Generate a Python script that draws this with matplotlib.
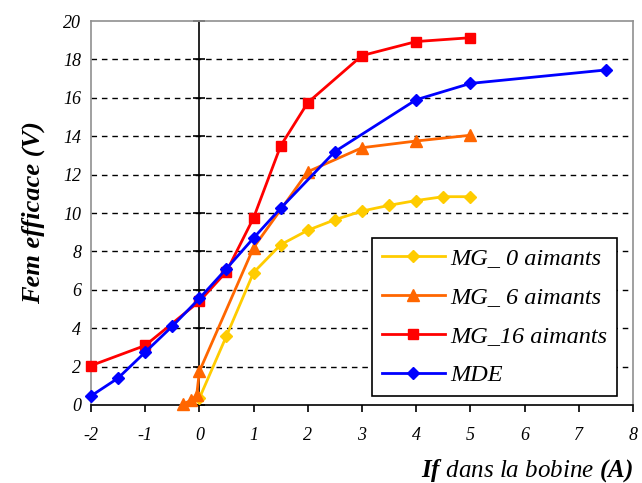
import matplotlib
matplotlib.use("Agg")
import matplotlib.pyplot as plt

plt.rcParams['font.family'] = ['Liberation Serif', 'DejaVu Serif']
plt.rcParams['mathtext.fontset'] = 'custom'
plt.rcParams['mathtext.it'] = 'Liberation Serif:italic'
plt.rcParams['mathtext.bfit'] = 'Liberation Serif:italic:bold'
plt.rcParams['mathtext.rm'] = 'Liberation Serif:italic'

# data
x_mg0 = [0, 0.5, 1, 1.5, 2, 2.5, 3, 3.5, 4, 4.5, 5]
y_mg0 = [0.35, 3.6, 6.9, 8.35, 9.1, 9.65, 10.1, 10.4, 10.65, 10.85, 10.85]

x_mg6 = [-0.3, -0.15, -0.05, 0, 1, 2, 3, 4, 5]
y_mg6 = [0.05, 0.25, 0.5, 1.75, 8.2, 12.15, 13.4, 13.75, 14.05]

x_mg16 = [-2, -1, 0, 0.5, 1, 1.5, 2, 3, 4, 5]
y_mg16 = [2.05, 3.1, 5.4, 6.95, 9.75, 13.5, 15.75, 18.2, 18.93, 19.13]

x_mde = [-2, -1.5, -1, -0.5, 0, 0.5, 1, 1.5, 2.5, 4, 5, 7.5]
y_mde = [0.47, 1.4, 2.75, 4.1, 5.55, 7.1, 8.7, 10.25, 13.2, 15.9, 16.75, 17.45]

x_ticks = [-2, -1, 0, 1, 2, 3, 4, 5, 6, 7, 8]
y_ticks = [0, 2, 4, 6, 8, 10, 12, 14, 16, 18, 20]
grid_levels = [2, 4, 6, 8, 10, 12, 14, 16, 18]

fig = plt.figure(figsize=(6.42, 4.83), dpi=100)
ax = fig.add_axes([0.1417, 0.1615, 0.8443, 0.795])

ax.set_xlim(-2, 8)
ax.set_ylim(0, 20)

# dashed grid
ax.hlines(grid_levels, -2, 8, colors='black', linestyles=(0, (4, 3.5)), linewidth=1.0, zorder=1)
# vertical axis at x=0 with tick marks
ax.axvline(0, color='black', linewidth=1.2, zorder=1)
ax.plot([0] * len(y_ticks), y_ticks, linestyle='none', marker='_', markersize=9,
        markeredgewidth=1.2, color='black', zorder=1, clip_on=False)

lw = 2.0
ax.plot(x_mg0, y_mg0, color='#FFCC00', marker='D', markersize=6, linewidth=lw,
        label='MG_ 0 aimants', zorder=3, clip_on=False)
ax.plot(x_mg6, y_mg6, color='#FF6600', marker='^', markersize=8, linewidth=lw,
        label='MG_ 6 aimants', zorder=3, clip_on=False)
ax.plot(x_mg16, y_mg16, color='#FF0000', marker='s', markersize=6.5, linewidth=lw,
        label='MG_16 aimants', zorder=4, clip_on=False)
ax.plot(x_mde, y_mde, color='#0000FF', marker='D', markersize=6, linewidth=lw,
        label='MDE', zorder=5, clip_on=False)

for s in ['left', 'top', 'right']:
    ax.spines[s].set_color('#909090')
    ax.spines[s].set_linewidth(1.2)
ax.spines['bottom'].set_color('black')
ax.spines['bottom'].set_linewidth(1.2)

ax.set_xticks(x_ticks)
ax.set_yticks(y_ticks)
ax.set_xticklabels([str(v) for v in x_ticks], fontstyle='italic', fontsize=13)
ax.set_yticklabels([str(v) for v in y_ticks], fontstyle='italic', fontsize=13)
ax.tick_params(axis='x', direction='out', length=5, width=1.2, color='black', pad=11)
ax.tick_params(axis='y', length=0, pad=7)

ax.set_ylabel('Fem efficace (V)', fontstyle='italic', fontweight='bold', fontsize=19, labelpad=13)
ax.set_xlabel(r'$\mathbfit{If}$ dans la bobine $\mathbfit{(A)}$', fontstyle='italic',
              fontsize=18, loc='right', labelpad=9)

leg = ax.legend(loc='lower right', bbox_to_anchor=(0.97, 0.023), fancybox=False,
                framealpha=1, edgecolor='black', handlelength=2.6,
                prop={'style': 'italic', 'size': 17.5}, borderpad=0.4,
                labelspacing=0.7, handletextpad=0.2, borderaxespad=0)
leg.get_frame().set_linewidth(1.2)
leg.set_zorder(10)

fig.savefig('out.png', dpi=100)
